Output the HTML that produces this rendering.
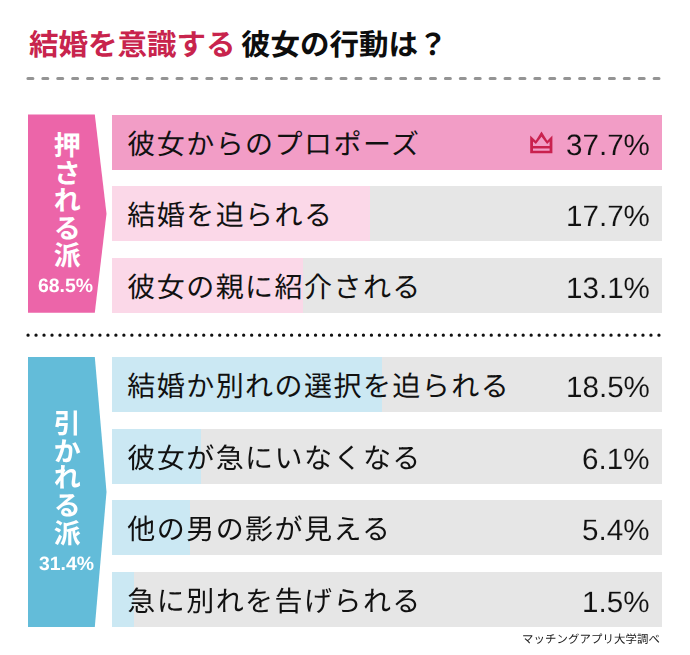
<!DOCTYPE html>
<html lang="ja">
<head>
<meta charset="utf-8">
<title>結婚を意識する彼女の行動は？</title>
<style>
html,body{margin:0;padding:0;background:#fff;}
body{text-rendering:geometricPrecision;width:690px;height:655px;overflow:hidden;position:relative;font-family:"Liberation Sans",sans-serif;color:#111111;}
#chart{position:absolute;left:0;top:0;width:690px;height:655px;overflow:hidden;background:#fff;}
.abs{position:absolute;}
svg{position:absolute;left:0;top:0;overflow:visible;display:block;}
.sr{position:absolute;left:0;top:0;color:transparent;white-space:nowrap;font-size:12px;line-height:1;overflow:hidden;width:1px;height:1px;}
h1,h2,p{margin:0;font-weight:normal;font-size:inherit;}
.row{position:absolute;left:111.7px;width:550.3px;background:#e6e6e6;}
.row .fill{position:absolute;left:0;top:0;height:100%;}
.pink .fill{background:#fbd8e8;}
.pink .row.top .fill{background:#f29dc6;}
.blue .fill{background:#cbe8f3;}
.val{position:absolute;right:12.5px;-webkit-text-stroke:0.1px #e6e6e6;font-size:29.6px;line-height:29px;will-change:transform;white-space:nowrap;letter-spacing:0;color:#111111;}
.side{position:absolute;left:0;top:0;}
.row.top .val{-webkit-text-stroke-color:#f29dc6;}
.sidepct{position:absolute;will-change:transform;color:#fff;font-weight:bold;font-size:19.4px;line-height:19.4px;white-space:nowrap;}
svg text{font-family:"Liberation Sans","Noto Sans CJK JP",sans-serif;}
.lbl{font-size:28px;letter-spacing:1.45px;fill:#111111;font-weight:normal;}
.sidetxt{font-size:27px;font-weight:bold;fill:#fff;text-anchor:middle;}
</style>
</head>
<body>
<div id="chart">
<h1 class="abs" style="left:0;top:0;width:690px;height:70px"><span class="sr">結婚を意識する彼女の行動は？</span><svg width="690" height="70" viewBox="0 0 690 70" aria-hidden="true"><text y="54.5" font-size="29.5" font-weight="bold"><tspan x="29" fill="#c8244d">結婚を意識する</tspan><tspan x="241" fill="#0d0d0d">彼女の行動は？</tspan></text></svg></h1>
<svg width="690" height="655" viewBox="0 0 690 655" aria-hidden="true"><line x1="27.9" y1="78.4" x2="659" y2="78.4" stroke="#949494" stroke-width="3" stroke-linecap="round" stroke-dasharray="5 9.91"/><line x1="28.05" y1="335.15" x2="659.75" y2="335.15" stroke="#111" stroke-width="3.3" stroke-linecap="round" stroke-dasharray="0 7.986"/></svg>
<section class="pink">
<h2 class="side"><span class="sr">押される派</span><svg width="120" height="655" viewBox="0 0 120 655" aria-hidden="true"><polygon points="28,114.6 94.8,114.6 106.5,213.7 94.8,312.8 28,312.8" fill="#ec65a9"/><text class="sidetxt"><tspan x="67.3" y="154.7">押</tspan><tspan x="67.3" y="183.4">さ</tspan><tspan x="67.3" y="209.7">れ</tspan><tspan x="67.3" y="237.9">る</tspan><tspan x="67.3" y="265.2">派</tspan></text></svg><span class="sidepct" style="left:38px;top:276.7px">68.5%</span></h2>
<div class="row top" style="top:114.6px;height:55.0px"><div class="fill" style="width:550.3px"></div><p><span class="sr">彼女からのプロポーズ</span><svg width="550" height="55.0" viewBox="111.7 114.6 550 55.0" aria-hidden="true"><text class="lbl" x="127" y="153.5">彼女からのプロポーズ</text><path fill="#c9214e" fill-rule="evenodd" d="M529.9,152.8V135.1L535.4,140.3L541.2,131.1L547,140.3L552.1,135.1V152.8ZM532.7,145.6V141.1L535.6,143.5L541.2,136.4L546.8,143.5L549.3,141.1V145.6ZM532.7,148H549.3V150.3H532.7Z"/></svg></p><span class="val" style="top:16.1px">37.7%</span></div>
<div class="row" style="top:186.3px;height:55.0px"><div class="fill" style="width:258.4px"></div><p><span class="sr">結婚を迫られる</span><svg width="550" height="55.0" viewBox="111.7 186.3 550 55.0" aria-hidden="true"><text class="lbl" x="127" y="225.2">結婚を迫られる</text></svg></p><span class="val" style="top:16.1px">17.7%</span></div>
<div class="row" style="top:257.9px;height:55.0px"><div class="fill" style="width:191.2px"></div><p><span class="sr">彼女の親に紹介される</span><svg width="550" height="55.0" viewBox="111.7 257.9 550 55.0" aria-hidden="true"><text class="lbl" x="127" y="296.8">彼女の親に紹介される</text></svg></p><span class="val" style="top:16.1px">13.1%</span></div>
</section>
<section class="blue">
<h2 class="side"><span class="sr">引かれる派</span><svg width="120" height="655" viewBox="0 0 120 655" aria-hidden="true"><polygon points="28,357.1 94.8,357.1 106.5,492.0 94.8,626.9 28,626.9" fill="#63bcd9"/><text class="sidetxt"><tspan x="67.3" y="433">引</tspan><tspan x="67.3" y="461">か</tspan><tspan x="67.3" y="487">れ</tspan><tspan x="67.3" y="515">る</tspan><tspan x="67.3" y="542.7">派</tspan></text></svg><span class="sidepct" style="left:39.2px;top:555.0px">31.4%</span></h2>
<div class="row" style="top:357.1px;height:55.0px"><div class="fill" style="width:270.0px"></div><p><span class="sr">結婚か別れの選択を迫られる</span><svg width="550" height="55.0" viewBox="111.7 357.1 550 55.0" aria-hidden="true"><text class="lbl" x="127" y="396">結婚か別れの選択を迫られる</text></svg></p><span class="val" style="top:16.1px">18.5%</span></div>
<div class="row" style="top:428.8px;height:55.0px"><div class="fill" style="width:89.0px"></div><p><span class="sr">彼女が急にいなくなる</span><svg width="550" height="55.0" viewBox="111.7 428.8 550 55.0" aria-hidden="true"><text class="lbl" x="127" y="467.7">彼女が急にいなくなる</text></svg></p><span class="val" style="top:16.1px">6.1%</span></div>
<div class="row" style="top:500.4px;height:55.0px"><div class="fill" style="width:78.8px"></div><p><span class="sr">他の男の影が見える</span><svg width="550" height="55.0" viewBox="111.7 500.4 550 55.0" aria-hidden="true"><text class="lbl" x="127" y="539.3">他の男の影が見える</text></svg></p><span class="val" style="top:16.1px">5.4%</span></div>
<div class="row" style="top:572.0px;height:54.9px"><div class="fill" style="width:21.9px"></div><p><span class="sr">急に別れを告げられる</span><svg width="550" height="54.9" viewBox="111.7 572.0 550 54.9" aria-hidden="true"><text class="lbl" x="127" y="610.9">急に別れを告げられる</text></svg></p><span class="val" style="top:16.1px">1.5%</span></div>
</section>
<p class="abs" style="left:0;top:0"><span class="sr">マッチングアプリ大学調べ</span><svg width="690" height="655" viewBox="0 0 690 655" aria-hidden="true"><text x="522" y="643.2" font-size="11.4" letter-spacing="0.1" fill="#222">マッチングアプリ大学調べ</text></svg></p>
</div>
</body>
</html>
